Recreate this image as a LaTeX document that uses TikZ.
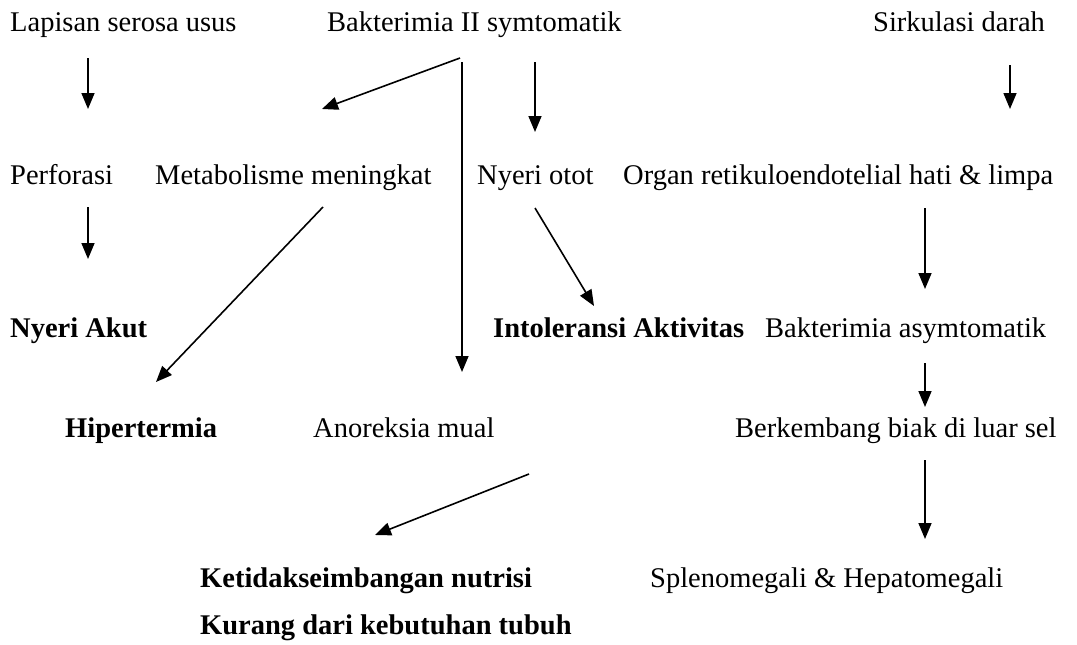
\documentclass[tikz,border=0pt]{standalone}
\usepackage{fontspec}
\setmainfont{Liberation Serif}
\usetikzlibrary{arrows.meta}
\begin{document}
\begin{tikzpicture}[x=1pt,y=-1pt,
  txt/.style={anchor=base west,inner sep=0pt,font=\fontsize{28.5}{32}\selectfont},
  btxt/.style={txt,font=\fontsize{28.5}{32}\selectfont\bfseries},
  arr/.style={line width=1.6pt,-{Triangle[length=16pt,width=13pt]}}]
\useasboundingbox[fill=white] (0,0) rectangle (1077,645);
% row 1
\node[txt] (lap) at (10,31) {Lapisan serosa usus};
\node[txt] (bak) at (327,31) {Bakterimia II symtomatik};
\node[txt] (sir) at (873,31) {Sirkulasi darah};
% row 2
\node[txt] (per) at (10,184) {Perforasi};
\node[txt] (met) at (155,184) {Metabolisme meningkat};
\node[txt] (nyo) at (477,184) {Nyeri otot};
\node[txt] (org) at (623,184) {Organ retikuloendotelial hati \& limpa};
% row 3
\node[btxt] (nya) at (10,337) {Nyeri Akut};
\node[btxt] (int) at (493,337) {Intoleransi Aktivitas};
\node[txt] (basy) at (765,337) {Bakterimia asymtomatik};
% row 4
\node[btxt] (hip) at (65,437) {Hipertermia};
\node[txt] (ano) at (313,437) {Anoreksia mual};
\node[txt] (ber) at (735,437) {Berkembang biak di luar sel};
% row 5-6
\node[btxt] (ket) at (200,587) {Ketidakseimbangan nutrisi};
\node[btxt] (kur) at (200,634) {Kurang dari kebutuhan tubuh};
\node[txt] (spl) at (650,587) {Splenomegali \& Hepatomegali};
% arrow end points
\coordinate (a1s) at (88,58);   \coordinate (a1e) at (88,109);
\coordinate (a2s) at (460,58);  \coordinate (a2e) at (322,109);
\coordinate (a3s) at (462,62);  \coordinate (a3e) at (462,372);
\coordinate (a4s) at (535,62);  \coordinate (a4e) at (535,132);
\coordinate (a5s) at (1010,65); \coordinate (a5e) at (1010,109);
\coordinate (a6s) at (88,207);  \coordinate (a6e) at (88,259);
\coordinate (a7s) at (323,207); \coordinate (a7e) at (156,382);
\coordinate (a8s) at (535,208); \coordinate (a8e) at (594,306);
\coordinate (a9s) at (925,208); \coordinate (a9e) at (925,289);
\coordinate (a10s) at (925,363); \coordinate (a10e) at (925,407);
\coordinate (a11s) at (529,474); \coordinate (a11e) at (375,535);
\coordinate (a12s) at (925,460); \coordinate (a12e) at (925,539);
\draw[arr] (a1s) -- (a1e);
\draw[arr] (a2s) -- (a2e);
\draw[arr] (a3s) -- (a3e);
\draw[arr] (a4s) -- (a4e);
\draw[arr] (a5s) -- (a5e);
\draw[arr] (a6s) -- (a6e);
\draw[arr] (a7s) -- (a7e);
\draw[arr] (a8s) -- (a8e);
\draw[arr] (a9s) -- (a9e);
\draw[arr] (a10s) -- (a10e);
\draw[arr] (a11s) -- (a11e);
\draw[arr] (a12s) -- (a12e);
\end{tikzpicture}
\end{document}
